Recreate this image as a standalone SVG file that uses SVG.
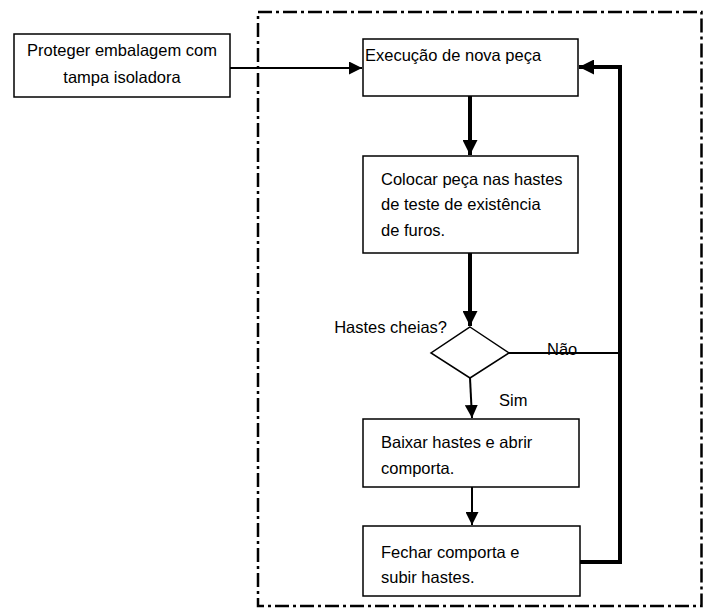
<svg xmlns="http://www.w3.org/2000/svg" width="703" height="610" viewBox="0 0 703 610">
<defs>
<style>
.box{fill:#fff;stroke:#000;stroke-width:1.5}
.t{font-family:"Liberation Sans",Arial,sans-serif;font-size:16.5px;fill:#000}
.thick{fill:none;stroke:#000;stroke-width:4}
.thin{fill:none;stroke:#000;stroke-width:2}
.border{fill:none;stroke:#000;stroke-width:2.5;stroke-dasharray:14 4 3 4}
</style>
<marker id="ah" viewBox="0 0 10 10" refX="10" refY="5" markerWidth="13" markerHeight="13" markerUnits="userSpaceOnUse" orient="auto">
<path d="M0,0 L10,5 L0,10 Z" fill="#000"/>
</marker>
<marker id="ahb" viewBox="0 0 10 10" refX="10" refY="5" markerWidth="15" markerHeight="15" markerUnits="userSpaceOnUse" orient="auto">
<path d="M0,0 L10,5 L0,10 Z" fill="#000"/>
</marker>
</defs>
<rect class="border" x="258" y="12" width="443.5" height="594"/>
<g id="connectors">
<path class="thin" d="M230,68 L362,68" marker-end="url(#ah)"/>
<path class="thick" d="M470,96 L470,155" marker-end="url(#ahb)"/>
<path class="thick" d="M470,253 L470,326" marker-end="url(#ahb)"/>
<path class="thin" d="M509,353 L620,353"/>
<path class="thin" d="M470,378 L472,418" marker-end="url(#ah)"/>
<path class="thin" d="M472,487 L472,525" marker-end="url(#ah)"/>
<path class="thick" d="M580,562 L620,562 L620,67 L579,67" marker-end="url(#ahb)"/>
</g>
<g id="n-proteger">
<rect class="box" x="14" y="34" width="216" height="63"/>
<text class="t" x="122" y="56" text-anchor="middle">Proteger embalagem com</text>
<text class="t" x="122" y="83" text-anchor="middle">tampa isoladora</text>
</g>
<g id="n-execucao">
<rect class="box" x="363" y="39" width="215" height="57"/>
<text class="t" x="365" y="61">Execução de nova peça</text>
</g>
<g id="n-colocar">
<rect class="box" x="363" y="156" width="215" height="97"/>
<text class="t" x="381" y="185">Colocar peça nas hastes</text>
<text class="t" x="381" y="210">de teste de existência</text>
<text class="t" x="381" y="236">de furos.</text>
</g>
<g id="n-decisao">
<polygon class="box" points="470,327 509,353 470,378 431,353"/>
<text class="t" x="447" y="333" text-anchor="end">Hastes cheias?</text>
</g>
<text class="t" x="547" y="355">Não</text>
<text class="t" x="499" y="406">Sim</text>
<g id="n-baixar">
<rect class="box" x="363" y="419" width="216" height="68"/>
<text class="t" x="381" y="448">Baixar hastes e abrir</text>
<text class="t" x="381" y="474">comporta.</text>
</g>
<g id="n-fechar">
<rect class="box" x="363" y="526" width="217" height="70"/>
<text class="t" x="381" y="558">Fechar comporta e</text>
<text class="t" x="381" y="583">subir hastes.</text>
</g>
</svg>
